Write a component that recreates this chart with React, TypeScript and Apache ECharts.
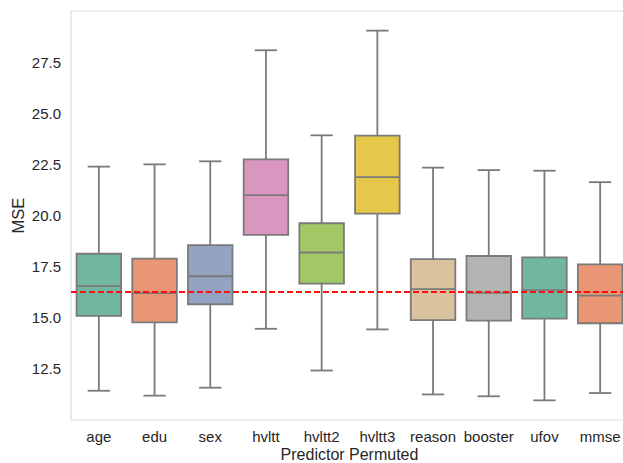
import React, { useEffect, useRef } from "react";
import * as echarts from "echarts";

const categories = ["age", "edu", "sex", "hvltt", "hvltt2", "hvltt3", "reason", "booster", "ufov", "mmse"];
const lowerWhisker = [11.43, 11.19, 11.58, 14.46, 12.42, 14.43, 11.25, 11.16, 10.96, 11.32];
const q1 = [15.09, 14.77, 15.66, 19.05, 16.67, 20.09, 14.88, 14.86, 14.96, 14.73];
const median = [16.55, 16.2, 17.03, 21.0, 18.19, 21.88, 16.4, 16.22, 16.35, 16.08];
const q3 = [18.13, 17.89, 18.55, 22.74, 19.62, 23.91, 17.87, 18.02, 17.95, 17.61];
const upperWhisker = [22.39, 22.5, 22.65, 28.08, 23.92, 29.04, 22.34, 22.22, 22.19, 21.63];
const boxColors = ["#71b6a0", "#e99675", "#95a3c3", "#db96c0", "#a2c865", "#e5c849", "#dbc29e", "#b3b3b3", "#71b6a0", "#e99675"];
const baselineMSE = 16.27;
const yTicks = { min: 10, max: 30, interval: 2.5 };

export default function App() {
  const ref = useRef<HTMLDivElement>(null);
  useEffect(() => {
    if (!ref.current) return;
    const chart = echarts.init(ref.current, null, { renderer: "svg" });
    const data = categories.map((_, i) => [i, lowerWhisker[i], q1[i], median[i], q3[i], upperWhisker[i]]);
    const edge = "#7a7a7a";
    const lw = 1.8;
    const font = "Liberation Sans, Arial, sans-serif";
    chart.setOption({
      animation: false,
      grid: {
        left: 71,
        top: 11,
        right: -5,
        bottom: 43,
        outerBoundsMode: "none",
        containLabel: false,
        show: true,
        borderColor: "#dddddd",
        borderWidth: 1.2,
      },
      xAxis: {
        type: "category",
        data: categories,
        boundaryGap: true,
        name: "Predictor Permuted",
        nameLocation: "middle",
        nameMoveOverlap: false,
        nameGap: 26,
        nameTextStyle: { fontSize: 16, color: "#262626", fontFamily: font, lineHeight: 16 },
        axisLine: { show: false },
        axisTick: { show: false },
        axisLabel: { interval: 0, fontSize: 15, color: "#262626", margin: 9, fontFamily: font },
        splitLine: { show: false },
      },
      yAxis: {
        type: "value",
        min: yTicks.min,
        max: yTicks.max,
        interval: yTicks.interval,
        name: "MSE",
        nameLocation: "middle",
        nameMoveOverlap: false,
        nameGap: 45,
        nameTextStyle: { fontSize: 16.5, color: "#262626", fontFamily: font, lineHeight: 16.5 },
        axisLine: { show: false },
        axisTick: { show: false },
        splitLine: { show: false },
        axisLabel: {
          fontSize: 15,
          color: "#262626",
          margin: 10,
          showMinLabel: false,
          showMaxLabel: false,
          fontFamily: font,
          formatter: (v: number) => v.toFixed(1),
        },
      },
      series: [
        {
          type: "custom",
          data,
          encode: { x: 0, y: [1, 2, 3, 4, 5] },
          renderItem: (params: any, api: any) => {
            const idx = api.value(0);
            const band = api.size([1, 0])[0];
            const boxW = band * 0.8;
            const capW = boxW * 0.5;
            const pLo = api.coord([idx, api.value(1)]);
            const pQ1 = api.coord([idx, api.value(2)]);
            const pMed = api.coord([idx, api.value(3)]);
            const pQ3 = api.coord([idx, api.value(4)]);
            const pHi = api.coord([idx, api.value(5)]);
            const cx = pLo[0];
            const ls = { stroke: edge, lineWidth: lw };
            return {
              type: "group",
              children: [
                { type: "line", shape: { x1: cx, y1: pHi[1], x2: cx, y2: pQ3[1] }, style: ls },
                { type: "line", shape: { x1: cx, y1: pQ1[1], x2: cx, y2: pLo[1] }, style: ls },
                { type: "line", shape: { x1: cx - capW / 2, y1: pHi[1], x2: cx + capW / 2, y2: pHi[1] }, style: ls },
                { type: "line", shape: { x1: cx - capW / 2, y1: pLo[1], x2: cx + capW / 2, y2: pLo[1] }, style: ls },
                {
                  type: "rect",
                  shape: { x: cx - boxW / 2, y: pQ3[1], width: boxW, height: pQ1[1] - pQ3[1] },
                  style: { fill: boxColors[idx], stroke: edge, lineWidth: lw },
                },
                { type: "line", shape: { x1: cx - boxW / 2, y1: pMed[1], x2: cx + boxW / 2, y2: pMed[1] }, style: ls },
              ],
            };
          },
          z: 2,
        },
        {
          type: "line",
          data: [],
          z: 5,
          markLine: {
            silent: true,
            symbol: "none",
            label: { show: false },
            lineStyle: { color: "#ff1010", width: 1.8, type: [6, 3] },
            data: [{ yAxis: baselineMSE }],
          },
        },
      ],
    });
    return () => chart.dispose();
  }, []);
  return <div ref={ref} style={{ width: 623, height: 463, position: "absolute", left: 0, top: 0 }} />;
}
